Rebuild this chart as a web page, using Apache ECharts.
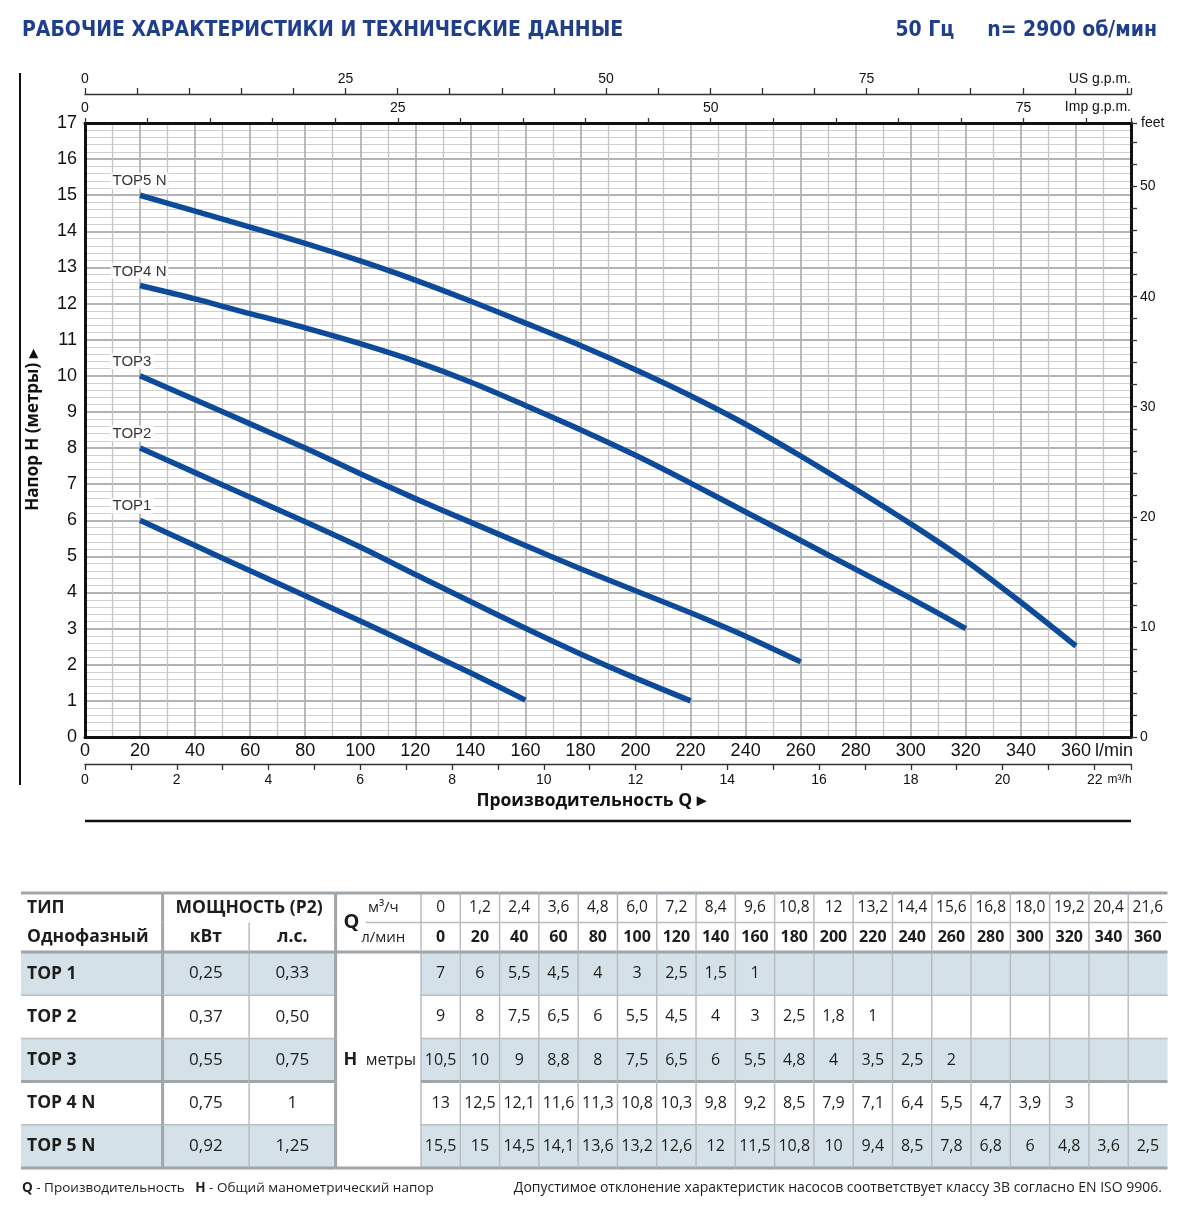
<!DOCTYPE html>
<html>
<head>
<meta charset="utf-8">
<title>TOP - рабочие характеристики</title>
<script src="https://cdn.jsdelivr.net/npm/echarts@6/dist/echarts.min.js"></script>
<style>
  html, body { margin: 0; padding: 0; background: #fff; }
  #main { width: 1180px; height: 1215px; }
</style>
</head>
<body>
<div id="main"></div>
<script>
// --- кривые (Q в л/мин, H в метрах) ---
var curveFlow = [20, 40, 60, 80, 100, 120, 140, 160, 180, 200, 220, 240, 260, 280, 300, 320, 340, 360];
var top1Curve = [6.0, 5.30, 4.60, 3.91, 3.21, 2.50, 1.78, 1.02];
var top2Curve = [8.0, 7.32, 6.64, 5.96, 5.26, 4.50, 3.75, 3.01, 2.30, 1.63, 1.0];
var top3Curve = [10.0, 9.34, 8.67, 8.0, 7.29, 6.6, 5.95, 5.30, 4.66, 4.05, 3.44, 2.79, 2.08];
var top4Curve = [12.5, 12.13, 11.72, 11.33, 10.89, 10.40, 9.83, 9.18, 8.51, 7.80, 7.03, 6.23, 5.44, 4.64, 3.84, 3.0];
var top5Curve = [15.0, 14.56, 14.12, 13.67, 13.18, 12.65, 12.07, 11.46, 10.84, 10.17, 9.45, 8.66, 7.78, 6.86, 5.9, 4.88, 3.73, 2.52];
var curveNames = ['TOP1', 'TOP2', 'TOP3', 'TOP4 N', 'TOP5 N'];

// --- таблица ---
var tableM3h = ['0', '1,2', '2,4', '3,6', '4,8', '6,0', '7,2', '8,4', '9,6', '10,8', '12', '13,2', '14,4', '15,6', '16,8', '18,0', '19,2', '20,4', '21,6'];
var tableLmin = [0, 20, 40, 60, 80, 100, 120, 140, 160, 180, 200, 220, 240, 260, 280, 300, 320, 340, 360];
var models = ['TOP 1', 'TOP 2', 'TOP 3', 'TOP 4 N', 'TOP 5 N'];
var powerKw = ['0,25', '0,37', '0,55', '0,75', '0,92'];
var powerHp = ['0,33', '0,50', '0,75', '1', '1,25'];
var headTop1 = [7, 6, 5.5, 4.5, 4, 3, 2.5, 1.5, 1];
var headTop2 = [9, 8, 7.5, 6.5, 6, 5.5, 4.5, 4, 3, 2.5, 1.8, 1];
var headTop3 = [10.5, 10, 9, 8.8, 8, 7.5, 6.5, 6, 5.5, 4.8, 4, 3.5, 2.5, 2];
var headTop4 = [13, 12.5, 12.1, 11.6, 11.3, 10.8, 10.3, 9.8, 9.2, 8.5, 7.9, 7.1, 6.4, 5.5, 4.7, 3.9, 3];
var headTop5 = [15.5, 15, 14.5, 14.1, 13.6, 13.2, 12.6, 12, 11.5, 10.8, 10, 9.4, 8.5, 7.8, 6.8, 6, 4.8, 3.6, 2.5];

// пересчёт единиц
var LMIN_PER_USGPM = 3.78541, LMIN_PER_IMPGPM = 4.54609, LMIN_PER_M3H = 16.6667, FT_PER_M = 3.28084;
var Q_MAX = 380, H_MAX = 17;

var CF = "'Liberation Sans Narrow', 'Liberation Sans', Arial, sans-serif";
var TF = "'Open Sans', 'Noto Sans', sans-serif";
var TITLE_F = "'DejaVu Sans Condensed', 'Liberation Sans Narrow', sans-serif";
var BLUE = '#1f3f8d';
var CURVE = '#0d4a99';
var SHADE = '#d5e1e9';
var TXT = '#1d1d1b';

var myChart = echarts.init(document.getElementById('main'));

var curves = [top1Curve, top2Curve, top3Curve, top4Curve, top5Curve];
var heads = [headTop1, headTop2, headTop3, headTop4, headTop5];

function fmt(v) { return String(v).replace('.', ','); }
function rowFill(r) { return r % 2 === 0 ? SHADE : '#fff'; }
function rowBottom(r) { return (r === 2 || r === 4) ? 'thick' : 'thin'; }

var LINES = {
  thick: { stroke: '#a0a5a9', lineWidth: 3 },
  thin: { stroke: '#b9bdc0', lineWidth: 1.5 }
};

function cellBox(c, api) {
  var p = api.coord([c.col, c.row]);
  var s = api.size([1, 1]);
  return { x: p[0] - s[0] / 2, y: p[1] - s[1] / 2, w: s[0] * (c.spanX || 1), h: s[1] * (c.spanY || 1) };
}

// две серии на блок таблицы: заливка+текст, затем линии поверх
function tableSeries(xi, yi, cells) {
  var data = cells.map(function (c) { return [c.col, c.row]; });
  var fillS = {
    type: 'custom', xAxisIndex: xi, yAxisIndex: yi, data: data, z: 3, silent: true,
    renderItem: function (params, api) {
      var c = cells[params.dataIndex];
      var b = cellBox(c, api);
      var ch = [];
      if (c.fill !== 'none') {
        ch.push({ type: 'rect', shape: { x: b.x, y: b.y, width: b.w, height: b.h }, style: { fill: c.fill || '#fff' } });
      }
      if (c.text) {
        ch.push({
          type: 'text',
          style: {
            text: c.text,
            x: (c.align === 'left' ? b.x + (c.pad || 6) : b.x + b.w / 2) + (c.dx || 0),
            y: b.y + b.h / 2 + (c.dy || 0),
            align: c.align || 'center', verticalAlign: 'middle',
            fontFamily: TF, fontSize: c.size || 16, fontWeight: c.bold ? 'bold' : 'normal',
            fill: TXT, rich: c.rich
          }
        });
      }
      return { type: 'group', children: ch };
    }
  };
  var lineS = {
    type: 'custom', xAxisIndex: xi, yAxisIndex: yi, data: data, z: 4, silent: true,
    renderItem: function (params, api) {
      var c = cells[params.dataIndex];
      var b = cellBox(c, api);
      var ch = [];
      if (c.top) ch.push({ type: 'line', shape: { x1: b.x, y1: b.y, x2: b.x + b.w, y2: b.y }, style: LINES[c.top] });
      if (c.bottom) ch.push({ type: 'line', shape: { x1: b.x + (c.bottomFrom || 0), y1: b.y + b.h, x2: b.x + b.w, y2: b.y + b.h }, style: LINES[c.bottom] });
      if (c.right) ch.push({ type: 'line', shape: { x1: b.x + b.w, y1: b.y, x2: b.x + b.w, y2: b.y + b.h }, style: LINES[c.right] });
      return { type: 'group', children: ch };
    }
  };
  return [fillS, lineS];
}

// ячейки таблицы
var cellsType = models.map(function (m, r) {
  return { col: 0, row: r, text: m, bold: true, size: 17.5, align: 'left', pad: 6, fill: rowFill(r), right: 'thick', bottom: rowBottom(r) };
});
var cellsPower = [];
models.forEach(function (m, r) {
  cellsPower.push({ col: 0, row: r, text: powerKw[r], size: 17, fill: rowFill(r), right: 'thin', bottom: rowBottom(r) });
  cellsPower.push({ col: 1, row: r, text: powerHp[r], size: 17, fill: rowFill(r), right: 'thick', bottom: rowBottom(r) });
});
var cellsH = [{
  col: 0, row: 0, spanY: 5, align: 'left', pad: 8, fill: '#fff', right: 'thin', bottom: 'thick',
  text: '{h|H}  {m|метры}', rich: { h: { fontFamily: TF, fontSize: 18, fontWeight: 'bold', fill: TXT }, m: { fontFamily: TF, fontSize: 16, fill: TXT } }
}];
var cellsData = [];
heads.forEach(function (vals, r) {
  tableLmin.forEach(function (q, c) {
    cellsData.push({ col: c, row: r, text: vals[c] !== undefined ? fmt(vals[c]) : '', size: 16, fill: rowFill(r), right: c < tableLmin.length - 1 ? 'thin' : null, bottom: rowBottom(r) });
  });
});
var hdrType = [
  { col: 0, row: 0, text: 'ТИП', bold: true, size: 17.5, align: 'left', pad: 6, top: 'thick', right: 'thick' },
  { col: 0, row: 1, text: 'Однофазный', bold: true, size: 17.5, align: 'left', pad: 6, right: 'thick', bottom: 'thick' }
];
var hdrPower = [
  { col: 0, row: 0, spanX: 2, text: 'МОЩНОСТЬ (P2)', bold: true, size: 17.5, top: 'thick', right: 'thick' },
  { col: 0, row: 1, text: 'кВт', bold: true, size: 17.5, right: 'thin', bottom: 'thick' },
  { col: 1, row: 1, text: 'л.с.', bold: true, size: 17.5, right: 'thick', bottom: 'thick' }
];
var hdrQ = [
  { col: 0, row: 0, spanY: 2, text: 'Q', bold: true, size: 20, align: 'left', pad: 8, top: 'thick', right: 'thin', bottom: 'thick' },
  { col: 0, row: 0, fill: 'none', text: 'м³/ч', size: 15, dx: 5, bottom: 'thin', bottomFrom: 30 },
  { col: 0, row: 1, fill: 'none', text: 'л/мин', size: 15, dx: 5 }
];
var hdrData = [];
tableLmin.forEach(function (q, c) {
  var rt = c < tableLmin.length - 1 ? 'thin' : null;
  hdrData.push({ col: c, row: 0, text: tableM3h[c], size: 15.5, top: 'thick', bottom: 'thin', right: rt });
  hdrData.push({ col: c, row: 1, text: String(q), size: 16, bold: true, bottom: 'thick', right: rt });
});

// --- оси ---
var gridLine = { show: true, lineStyle: { color: '#b3b3b3', width: 1.8 } };

var xAxes = [
  { // л/мин
    type: 'value', gridIndex: 0, position: 'bottom', min: 0, max: Q_MAX, interval: 20,
    axisLine: { show: true, onZero: false, lineStyle: { color: '#111', width: 3 } },
    axisTick: { show: false },
    minorTick: { show: false, splitNumber: 2 },
    axisLabel: {
      fontFamily: CF, fontSize: 18, color: '#111', margin: 5,
      formatter: function (v) { return v === Q_MAX ? '{u|l/min}' : v; },
      rich: { u: { fontFamily: CF, fontSize: 18, color: '#111', padding: [0, 34, 0, 0] } }
    },
    splitLine: gridLine,
    minorSplitLine: { show: true, lineStyle: { color: '#c4c4c4', width: 1.3 } }
  },
  { // US g.p.m.
    type: 'value', gridIndex: 0, position: 'top', offset: 29, min: 0, max: Q_MAX / LMIN_PER_USGPM, interval: 5,
    name: 'US g.p.m.', nameLocation: 'end', nameGap: 0,
    nameTextStyle: { fontFamily: CF, fontSize: 14, color: '#111', align: 'right', verticalAlign: 'bottom', padding: [0, 0, 8, 0] },
    axisLine: { show: true, onZero: false, lineStyle: { color: '#333', width: 1.3 } },
    axisTick: { show: true, length: 6, lineStyle: { color: '#333', width: 1.3 } },
    axisLabel: { fontFamily: CF, fontSize: 14, color: '#111', margin: 8,
      formatter: function (v) { return (v % 25 === 0 && v < 100) ? v : ''; } },
    splitLine: { show: false }
  },
  { // Imp g.p.m.
    type: 'value', gridIndex: 0, position: 'top', min: 0, max: Q_MAX / LMIN_PER_IMPGPM, interval: 5,
    name: 'Imp g.p.m.', nameLocation: 'end', nameGap: 0,
    nameTextStyle: { fontFamily: CF, fontSize: 14, color: '#111', align: 'right', verticalAlign: 'bottom', padding: [0, 0, 9, 0] },
    axisLine: { show: true, onZero: false, lineStyle: { color: '#111', width: 3 } },
    axisTick: { show: true, length: 5, lineStyle: { color: '#333', width: 1.3 } },
    axisLabel: { fontFamily: CF, fontSize: 14, color: '#111', margin: 8,
      formatter: function (v) { return v % 25 === 0 ? v : ''; } },
    splitLine: { show: false }
  },
  { // м³/ч
    type: 'value', gridIndex: 0, position: 'bottom', offset: 27, min: 0, max: Q_MAX / LMIN_PER_M3H, interval: 1,
    name: 'Производительность Q ▸', nameLocation: 'middle', nameGap: 28,
    nameTextStyle: { fontFamily: TF, fontSize: 17.5, fontWeight: 'bold', color: '#111', padding: [0, 34, 0, 0] },
    axisLine: { show: true, onZero: false, lineStyle: { color: '#333', width: 1.3 } },
    axisTick: { show: true, length: 6, lineStyle: { color: '#333', width: 1.3 } },
    axisLabel: {
      fontFamily: CF, fontSize: 14, color: '#111', margin: 9,
      formatter: function (v) {
        if (v === 22) return '{v|22}{u|m³/h}';
        return v % 2 === 0 ? v : '';
      },
      rich: {
        v: { fontFamily: CF, fontSize: 14, color: '#111', padding: [0, 0, 0, 30] },
        u: { fontFamily: CF, fontSize: 12, color: '#111', padding: [0, 0, 0, 5] }
      }
    },
    splitLine: { show: false }
  }
];

var yAxes = [
  { // метры
    type: 'value', gridIndex: 0, position: 'left', min: 0, max: H_MAX, interval: 1,
    name: 'Напор H (метры) ▸', nameLocation: 'middle', nameGap: 43, nameRotate: 90,
    nameTextStyle: { fontFamily: TF, fontSize: 17, fontWeight: 'bold', color: '#111' },
    axisLine: { show: true, onZero: false, lineStyle: { color: '#111', width: 3 } },
    axisTick: { show: false },
    minorTick: { show: false, splitNumber: 5 },
    axisLabel: { fontFamily: CF, fontSize: 18, color: '#111', margin: 8 },
    splitLine: gridLine,
    minorSplitLine: { show: true, lineStyle: { color: '#d0d0d0', width: 1.1 } }
  },
  { // feet
    type: 'value', gridIndex: 0, position: 'right', min: 0, max: H_MAX * FT_PER_M, interval: 2,
    name: 'feet', nameLocation: 'end', nameGap: 0,
    nameTextStyle: { fontFamily: CF, fontSize: 14, color: '#111', align: 'left', verticalAlign: 'middle', padding: [8, 0, 0, 10] },
    axisLine: { show: true, onZero: false, lineStyle: { color: '#111', width: 3 } },
    axisTick: { show: true, length: 6, lineStyle: { color: '#333', width: 1.3 } },
    axisLabel: { fontFamily: CF, fontSize: 14, color: '#111', margin: 9,
      formatter: function (v) { return v % 10 === 0 ? v : ''; } },
    splitLine: { show: false }
  }
];

// сетки таблицы: 1-4 тело, 5-8 шапка
var grids = [
  { left: 85, top: 123, width: 1046, height: 614 },
  { left: 21, top: 952, width: 141.6, height: 216 },
  { left: 162.6, top: 952, width: 173, height: 216 },
  { left: 335.6, top: 952, width: 85.4, height: 216 },
  { left: 421, top: 952, width: 746.5, height: 216 },
  { left: 21, top: 893, width: 141.6, height: 59 },
  { left: 162.6, top: 893, width: 173, height: 59 },
  { left: 335.6, top: 893, width: 85.4, height: 59 },
  { left: 421, top: 893, width: 746.5, height: 59 }
];
var tableCols = [['ТИП'], ['кВт', 'л.с.'], ['H'], tableLmin.map(String), ['ТИП'], ['кВт', 'л.с.'], ['Q'], tableLmin.map(String)];
var tableRows = [models, models, models, models, ['м³/ч', 'л/мин'], ['м³/ч', 'л/мин'], ['м³/ч', 'л/мин'], ['м³/ч', 'л/мин']];
tableCols.forEach(function (cols, i) {
  xAxes.push({ type: 'category', gridIndex: i + 1, data: cols, show: false });
  yAxes.push({ type: 'category', gridIndex: i + 1, data: tableRows[i], inverse: true, show: false });
});

// --- серии ---
var series = curves.map(function (vals, k) {
  return {
    name: curveNames[k], type: 'line', xAxisIndex: 0, yAxisIndex: 0,
    smooth: 0.25, symbol: 'none', z: 5,
    lineStyle: { color: CURVE, width: 5.5 },
    data: vals.map(function (h, i) { return [curveFlow[i], h]; })
  };
});
series.push({
  type: 'scatter', xAxisIndex: 0, yAxisIndex: 0, z: 6, symbolSize: 1,
  itemStyle: { color: 'rgba(0,0,0,0)' },
  label: {
    show: true, formatter: '{b}', position: [-29, -22],
    fontFamily: "'Liberation Sans', Arial, sans-serif", fontSize: 15, color: '#000',
    backgroundColor: '#fff', padding: [1, 2, 0, 2]
  },
  data: curves.map(function (vals, k) { return { name: curveNames[k], value: [curveFlow[0], vals[0]] }; })
});
var blocks = [cellsType, cellsPower, cellsH, cellsData, hdrType, hdrPower, hdrQ, hdrData];
blocks.forEach(function (cells, i) {
  series = series.concat(tableSeries(4 + i, 2 + i, cells));
});

var option = {
  animation: false,
  backgroundColor: '#fff',
  title: [
    { text: 'РАБОЧИЕ ХАРАКТЕРИСТИКИ И ТЕХНИЧЕСКИЕ ДАННЫЕ', left: 22, top: 20, padding: 0,
      textStyle: { fontFamily: TITLE_F, fontSize: 21, fontWeight: 'bold', color: BLUE } },
    { text: '50 Гц     n= 2900 об/мин', right: 23, top: 20, padding: 0,
      textStyle: { fontFamily: TITLE_F, fontSize: 21, fontWeight: 'bold', color: BLUE } }
  ],
  grid: grids,
  xAxis: xAxes,
  yAxis: yAxes,
  series: series,
  graphic: [
    { type: 'line', shape: { x1: 20, y1: 73, x2: 20, y2: 785 }, style: { stroke: '#111', lineWidth: 2 } },
    { type: 'line', shape: { x1: 85, y1: 821, x2: 1131, y2: 821 }, style: { stroke: '#111', lineWidth: 2.5 } },
    { type: 'text', left: 22, top: 1181,
      style: { text: '{b|Q} - Производительность   {b|H} - Общий манометрический напор',
        font: '13.5px ' + TF, fill: TXT,
        rich: { b: { fontFamily: TF, fontSize: 13.5, fontWeight: 'bold', fill: TXT } } } },
    { type: 'text', right: 18, top: 1181,
      style: { text: 'Допустимое отклонение характеристик насосов соответствует классу 3B согласно EN ISO 9906.',
        font: '14px ' + TF, fill: TXT } }
  ]
};
myChart.setOption(option);
</script>
</body>
</html>
